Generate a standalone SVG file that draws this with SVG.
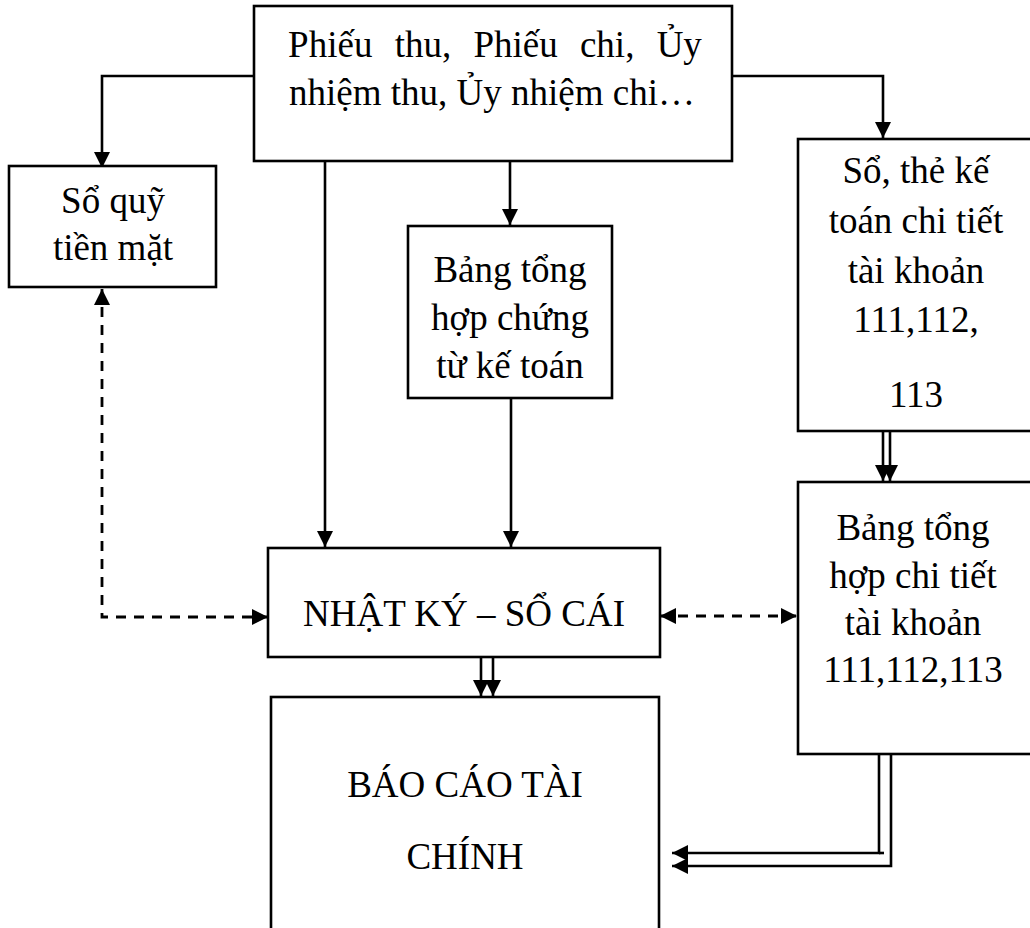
<svg xmlns="http://www.w3.org/2000/svg" width="1030" height="928" viewBox="0 0 1030 928">
  <style>
    .box { fill: #ffffff; stroke: #000000; stroke-width: 2.6; }
    .lbl { font-family: "Liberation Serif", "Times New Roman", serif; font-size: 37px; fill: #000000; text-anchor: middle; }
    .ln { fill: none; stroke: #000000; stroke-width: 2.6; }
    .dash { fill: none; stroke: #000000; stroke-width: 2.8; stroke-dasharray: 10 8; }
  </style>
  <defs>
    <marker id="arr" markerUnits="userSpaceOnUse" markerWidth="18" markerHeight="18" refX="16" refY="8" orient="auto-start-reverse">
      <path d="M0,0 L16,8 L0,16 z" fill="#000000"/>
    </marker>
  </defs>
  <rect width="1030" height="928" fill="#ffffff"/>

  <!-- connectors -->
  <g id="connectors">
    <!-- source documents to cash book -->
    <polyline class="ln" points="254,76 102,76 102,168" marker-end="url(#arr)"/>
    <!-- source documents to detailed ledgers -->
    <polyline class="ln" points="732,76 883,76 883,138" marker-end="url(#arr)"/>
    <!-- source documents to summary of vouchers -->
    <line class="ln" x1="510" y1="161" x2="510" y2="225" marker-end="url(#arr)"/>
    <!-- source documents to journal-ledger -->
    <line class="ln" x1="325" y1="161" x2="325" y2="547" marker-end="url(#arr)"/>
    <!-- summary of vouchers to journal-ledger -->
    <line class="ln" x1="511" y1="398" x2="511" y2="547" marker-end="url(#arr)"/>
    <!-- cash book <-> journal-ledger (dashed) -->
    <polyline class="dash" points="102,289 102,617 268,617" marker-start="url(#arr)" marker-end="url(#arr)"/>
    <!-- journal-ledger <-> detail summary (dashed) -->
    <line class="dash" x1="660" y1="616" x2="797" y2="616" marker-start="url(#arr)" marker-end="url(#arr)"/>
    <!-- detailed ledgers to detail summary (double) -->
    <line class="ln" x1="883" y1="431" x2="883" y2="481" marker-end="url(#arr)"/>
    <line class="ln" x1="890" y1="431" x2="890" y2="481" marker-end="url(#arr)"/>
    <!-- journal-ledger to financial statements (double) -->
    <line class="ln" x1="481" y1="657" x2="481" y2="696" marker-end="url(#arr)"/>
    <line class="ln" x1="493" y1="657" x2="493" y2="696" marker-end="url(#arr)"/>
    <!-- detail summary to financial statements (double) -->
    <polyline class="ln" points="879,754 879,853 672,853" marker-end="url(#arr)"/>
    <line class="ln" x1="879" y1="853" x2="884" y2="853"/>
    <polyline class="ln" points="891,754 891,866 672,866" marker-end="url(#arr)"/>
  </g>

  <g id="node-chung-tu">
    <rect class="box" x="254" y="6" width="478" height="155"/>
    <text class="lbl" x="495" y="57" word-spacing="13">Phiếu thu, Phiếu chi, Ủy</text>
    <text class="lbl" x="492" y="105">nhiệm thu, Ủy nhiệm chi…</text>
  </g>

  <g id="node-so-quy">
    <rect class="box" x="9" y="166" width="207" height="121"/>
    <text class="lbl" x="113" y="213">Sổ quỹ</text>
    <text class="lbl" x="113" y="260">tiền mặt</text>
  </g>

  <g id="node-bang-tong-hop-chung-tu">
    <rect class="box" x="408" y="226" width="204" height="172"/>
    <text class="lbl" x="510" y="282">Bảng tổng</text>
    <text class="lbl" x="510" y="330">hợp chứng</text>
    <text class="lbl" x="510" y="378">từ kế toán</text>
  </g>

  <g id="node-so-the-chi-tiet">
    <rect class="box" x="798" y="139" width="234" height="292"/>
    <text class="lbl" x="916" y="183">Sổ, thẻ kế</text>
    <text class="lbl" x="916" y="233">toán chi tiết</text>
    <text class="lbl" x="916" y="283">tài khoản</text>
    <text class="lbl" x="916" y="332">111,112,</text>
    <text class="lbl" x="916" y="407">113</text>
  </g>

  <g id="node-nhat-ky-so-cai">
    <rect class="box" x="268" y="548" width="392" height="109"/>
    <text class="lbl" x="464" y="626">NHẬT KÝ – SỔ CÁI</text>
  </g>

  <g id="node-bang-tong-hop-chi-tiet">
    <rect class="box" x="798" y="482" width="234" height="272"/>
    <text class="lbl" x="913" y="540">Bảng tổng</text>
    <text class="lbl" x="913" y="588">hợp chi tiết</text>
    <text class="lbl" x="913" y="635">tài khoản</text>
    <text class="lbl" x="913" y="682">111,112,113</text>
  </g>

  <g id="node-bao-cao-tai-chinh">
    <rect class="box" x="271" y="697" width="388" height="240"/>
    <text class="lbl" x="465" y="797">BÁO CÁO TÀI</text>
    <text class="lbl" x="465" y="869">CHÍNH</text>
  </g>
</svg>
